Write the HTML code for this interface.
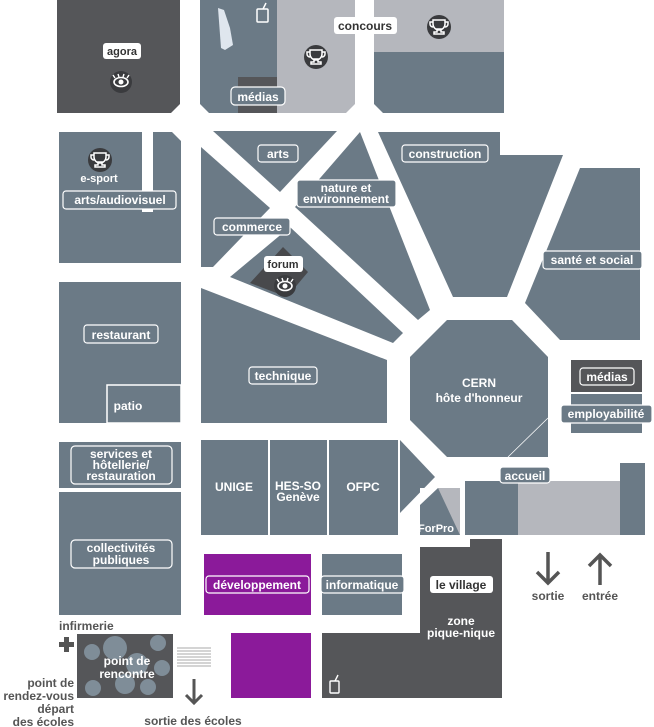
<!DOCTYPE html>
<html><head><meta charset="utf-8"><style>
html,body{margin:0;padding:0;background:#fff;}
svg{display:block;}
text{font-family:"Liberation Sans",sans-serif;font-weight:bold;}
</style></head><body>
<svg width="654" height="727" viewBox="0 0 654 727" xmlns="http://www.w3.org/2000/svg">
<defs>
<g id="trophy"><circle r="12" fill="#3a3b3e"/><path d="M-6,-7 h12 v4 a6,6 0 0 1 -12,0 z M-2,2 h4 v3 h3 v2 h-10 v-2 h3 z M-6,-5 h-3 v2 a3,3 0 0 0 3,3 M6,-5 h3 v2 a3,3 0 0 1 -3,3" fill="none" stroke="#fff" stroke-width="1.5"/></g>
<g id="eye"><circle r="11" fill="#3a3b3e"/><ellipse rx="7" ry="4.5" fill="none" stroke="#fff" stroke-width="1.6"/><circle r="2.5" fill="#fff"/><path d="M-6,-4 l-2,-3 M-2,-5 l-1,-3 M2,-5 l1,-3 M6,-4 l2,-3" stroke="#fff" stroke-width="1.4"/></g>
</defs>
<!-- top row -->
<path d="M57,0 H180 V104 L171,113 H57 Z" fill="#555659"/>
<path d="M200,0 H277 V113 H209 L200,104 Z" fill="#6b7a86"/>
<path d="M277,0 H355 V104 L346,113 H277 Z" fill="#b5b7bd"/>
<rect x="238" y="77" width="39" height="36" fill="#555659"/>
<path d="M374,52 H504 V113 H383 L374,104 Z" fill="#6b7a86"/>
<rect x="374" y="0" width="130" height="52" fill="#b5b7bd"/>
<path d="M218,8 L224,10 L230,28 L233,45 L225,50 L221,48 Z" fill="#dfe6ee"/>
<rect x="257" y="9" width="11" height="13" rx="1" fill="none" stroke="#fff" stroke-width="1.5"/><line x1="263" y1="9" x2="266" y2="3" stroke="#fff" stroke-width="1.5"/>
<use href="#trophy" x="316" y="57"/>
<use href="#trophy" x="439" y="27"/>
<rect x="103" y="43" width="38" height="16" rx="3" fill="#fff"/><text x="122" y="55" font-size="11" fill="#333" text-anchor="middle" font-family="Liberation Mono">agora</text>
<use href="#eye" x="121" y="82"/>
<rect x="231" y="87" width="54" height="18" rx="4" fill="#6b7a86" stroke="#fff" stroke-width="1.2"/><text x="258" y="101" font-size="12" fill="#fff" text-anchor="middle">médias</text>
<rect x="334" y="17" width="63" height="17" rx="3" fill="#fff"/><text x="365" y="30" font-size="12" fill="#333" text-anchor="middle">concours</text>
<!-- left column -->
<rect x="59" y="132" width="83" height="81" fill="#6b7a86"/>
<path d="M153,132 H172 L181,141 V263 H153 Z" fill="#6b7a86"/>
<rect x="59" y="212" width="122" height="51" fill="#6b7a86"/>
<use href="#trophy" x="100" y="160"/>
<text x="99" y="182" font-size="11" fill="#fff" text-anchor="middle">e-sport</text>
<rect x="63" y="191" width="113" height="18" rx="3" fill="#6b7a86" stroke="#fff" stroke-width="1.2"/><text x="120" y="204" font-size="12" fill="#fff" text-anchor="middle">arts/audiovisuel</text>
<rect x="59" y="282" width="122" height="141" fill="#6b7a86"/>
<rect x="84" y="325" width="74" height="18" rx="3" fill="#6b7a86" stroke="#fff" stroke-width="1.2"/><text x="121" y="339" font-size="12" fill="#fff" text-anchor="middle">restaurant</text>
<rect x="107" y="385" width="74" height="38" fill="#6b7a86" stroke="#fff" stroke-width="1.5"/><text x="128" y="410" font-size="12" fill="#fff" text-anchor="middle">patio</text>
<rect x="59" y="442" width="122" height="46" fill="#6b7a86"/>
<rect x="71" y="446" width="101" height="38" rx="4" fill="none" stroke="#fff" stroke-width="1.2"/>
<text x="121" y="458" font-size="12" fill="#fff" text-anchor="middle">services et</text><text x="121" y="469" font-size="12" fill="#fff" text-anchor="middle">hôtellerie/</text><text x="121" y="480" font-size="12" fill="#fff" text-anchor="middle">restauration</text>
<rect x="59" y="492" width="122" height="123" fill="#6b7a86"/>
<rect x="71" y="540" width="101" height="28" rx="4" fill="none" stroke="#fff" stroke-width="1.2"/>
<text x="121" y="552" font-size="12" fill="#fff" text-anchor="middle">collectivités</text><text x="121" y="564" font-size="12" fill="#fff" text-anchor="middle">publiques</text>
<!-- central -->
<polygon points="213,131 337,131 280,192" fill="#6b7a86"/>
<polygon points="201,147 270,208 213,267 201,267" fill="#6b7a86"/>
<polygon points="295,207 360,132 430,310 418,320" fill="#6b7a86"/>
<polygon points="230,277 290,227 403,333 393,343" fill="#6b7a86"/>
<polygon points="201,288 387,360 387,423 201,423" fill="#6b7a86"/>
<polygon points="378,132 500,132 500,155 563,155 507,297 453,297" fill="#6b7a86"/>
<polygon points="580,168 640,168 640,340 560,340 525,303" fill="#6b7a86"/>
<polygon points="447,320 512,320 548,357 548,457 447,457 410,420 410,357" fill="#6b7a86"/>
<line x1="548" y1="418" x2="508" y2="457" stroke="#fff" stroke-width="0.8"/>
<polygon points="283,247 308,272 287,297 250,283" fill="#48494c"/>
<rect x="264" y="256" width="39" height="16" rx="3" fill="#fff"/><text x="283" y="268" font-size="11" fill="#333" text-anchor="middle" font-family="Liberation Mono">forum</text>
<use href="#eye" x="285" y="286"/>
<rect x="258" y="145" width="40" height="17" rx="3" fill="#6b7a86" stroke="#fff" stroke-width="1.2"/><text x="278" y="158" font-size="12" fill="#fff" text-anchor="middle">arts</text>
<rect x="297" y="180" width="99" height="27" rx="3" fill="#6b7a86" stroke="#fff" stroke-width="1.2"/><text x="346" y="192" font-size="12" fill="#fff" text-anchor="middle">nature et</text><text x="346" y="203" font-size="12" fill="#fff" text-anchor="middle">environnement</text>
<rect x="214" y="218" width="76" height="17" rx="3" fill="#6b7a86" stroke="#fff" stroke-width="1.2"/><text x="252" y="231" font-size="12" fill="#fff" text-anchor="middle">commerce</text>
<rect x="402" y="145" width="86" height="17" rx="3" fill="#6b7a86" stroke="#fff" stroke-width="1.2"/><text x="445" y="158" font-size="12" fill="#fff" text-anchor="middle">construction</text>
<rect x="543" y="251" width="99" height="18" rx="3" fill="#6b7a86" stroke="#fff" stroke-width="1.2"/><text x="592" y="264" font-size="12" fill="#fff" text-anchor="middle">santé et social</text>
<rect x="249" y="367" width="68" height="17" rx="3" fill="#6b7a86" stroke="#fff" stroke-width="1.2"/><text x="283" y="380" font-size="12" fill="#fff" text-anchor="middle">technique</text>
<text x="479" y="387" font-size="12" fill="#fff" text-anchor="middle">CERN</text><text x="479" y="402" font-size="12" fill="#fff" text-anchor="middle">hôte d'honneur</text>
<rect x="571" y="360" width="71" height="32" fill="#555659"/>
<rect x="571" y="394" width="71" height="39" fill="#6b7a86"/>
<rect x="580" y="368" width="54" height="17" rx="3" fill="#555659" stroke="#fff" stroke-width="1.2"/><text x="607" y="381" font-size="12" fill="#fff" text-anchor="middle">médias</text>
<rect x="561" y="405" width="91" height="18" rx="3" fill="#6b7a86" stroke="#fff" stroke-width="1.2"/><text x="606" y="418" font-size="12" fill="#fff" text-anchor="middle">employabilité</text>
<!-- booths -->
<rect x="201" y="440" width="67" height="95" fill="#6b7a86"/>
<rect x="270" y="440" width="57" height="95" fill="#6b7a86"/>
<rect x="329" y="440" width="69" height="95" fill="#6b7a86"/>
<polygon points="400,440 435,477 400,513" fill="#6b7a86"/>
<text x="234" y="491" font-size="12" fill="#fff" text-anchor="middle">UNIGE</text>
<text x="298" y="490" font-size="12" fill="#fff" text-anchor="middle">HES-SO</text><text x="298" y="501" font-size="12" fill="#fff" text-anchor="middle">Genève</text>
<text x="363" y="491" font-size="12" fill="#fff" text-anchor="middle">OFPC</text>
<rect x="420" y="488" width="40" height="47" fill="#6b7a86"/>
<polygon points="438,488 460,488 460,535" fill="#b5b7bd"/>
<polygon points="420,488 438,488 420,505" fill="#fff"/>
<text x="436" y="532" font-size="11" fill="#fff" text-anchor="middle">ForPro</text>
<rect x="465" y="481" width="53" height="54" fill="#6b7a86"/>
<rect x="518" y="481" width="102" height="54" fill="#b5b7bd"/>
<rect x="620" y="463" width="25" height="72" fill="#6b7a86"/>
<rect x="500" y="467" width="50" height="16" rx="3" fill="#6b7a86" stroke="#fff" stroke-width="1.2"/><text x="525" y="480" font-size="12" fill="#fff" text-anchor="middle">accueil</text>
<!-- lower -->
<rect x="204" y="554" width="107" height="61" fill="#8b1a9a"/>
<rect x="206" y="576" width="103" height="17" rx="3" fill="#8b1a9a" stroke="#fff" stroke-width="1.2"/><text x="257" y="589" font-size="12" fill="#fff" text-anchor="middle">développement</text>
<rect x="322" y="554" width="80" height="61" fill="#6b7a86"/>
<rect x="321" y="576" width="83" height="17" rx="3" fill="#6b7a86" stroke="#fff" stroke-width="1.2"/><text x="362" y="589" font-size="12" fill="#fff" text-anchor="middle">informatique</text>
<polygon points="420,547 470,547 470,539 502,539 502,698 322,698 322,633 420,633" fill="#555659"/>
<rect x="430" y="576" width="63" height="17" rx="3" fill="#fff"/><text x="461" y="589" font-size="12" fill="#333" text-anchor="middle">le village</text>
<text x="461" y="625" font-size="12" fill="#fff" text-anchor="middle">zone</text><text x="461" y="637" font-size="12" fill="#fff" text-anchor="middle">pique-nique</text>
<rect x="330" y="681" width="9" height="12" rx="1" fill="none" stroke="#fff" stroke-width="1.4"/><line x1="335" y1="681" x2="338" y2="675" stroke="#fff" stroke-width="1.4"/>
<rect x="231" y="633" width="80" height="65" fill="#8b1a9a"/>
<rect x="77" y="634" width="96" height="64" fill="#555659"/>
<g fill="#7f8d98"><circle cx="92" cy="652" r="8"/><circle cx="115" cy="648" r="12"/><circle cx="158" cy="643" r="8"/><circle cx="137" cy="664" r="11"/><circle cx="162" cy="668" r="8"/><circle cx="125" cy="684" r="10"/><circle cx="93" cy="688" r="8"/><circle cx="148" cy="687" r="8"/></g>
<text x="127" y="665" font-size="12" fill="#fff" text-anchor="middle">point de</text><text x="127" y="678" font-size="12" fill="#fff" text-anchor="middle">rencontre</text>
<text x="59" y="630" font-size="12" fill="#555" font-weight="normal">infirmerie</text>
<path d="M64,637 h5 v5 h5 v5 h-5 v5 h-5 v-5 h-5 v-5 h5 z" fill="#555"/>
<g fill="#555" font-size="12" text-anchor="end"><text x="74" y="687">point de</text><text x="74" y="700">rendez-vous</text><text x="74" y="713">départ</text><text x="74" y="726">des écoles</text></g>
<g stroke="#aaa" stroke-width="1"><line x1="177" y1="648" x2="211" y2="648"/><line x1="177" y1="651" x2="211" y2="651"/><line x1="177" y1="654" x2="211" y2="654"/><line x1="177" y1="657" x2="211" y2="657"/><line x1="177" y1="660" x2="211" y2="660"/><line x1="177" y1="663" x2="211" y2="663"/><line x1="177" y1="666" x2="211" y2="666"/></g>
<path d="M194,679 V703 M186,695 L194,703 L202,695" stroke="#555" stroke-width="3" fill="none"/>
<text x="193" y="725" font-size="12" fill="#555" text-anchor="middle">sortie des écoles</text>
<path d="M548,552 V583 M537,572 L548,583 L559,572" stroke="#555" stroke-width="3.5" fill="none"/>
<path d="M600,585 V555 M589,566 L600,555 L611,566" stroke="#555" stroke-width="3.5" fill="none"/>
<text x="548" y="600" font-size="12" fill="#555" text-anchor="middle">sortie</text>
<text x="600" y="600" font-size="12" fill="#555" text-anchor="middle">entrée</text>
</svg>
</body></html>
